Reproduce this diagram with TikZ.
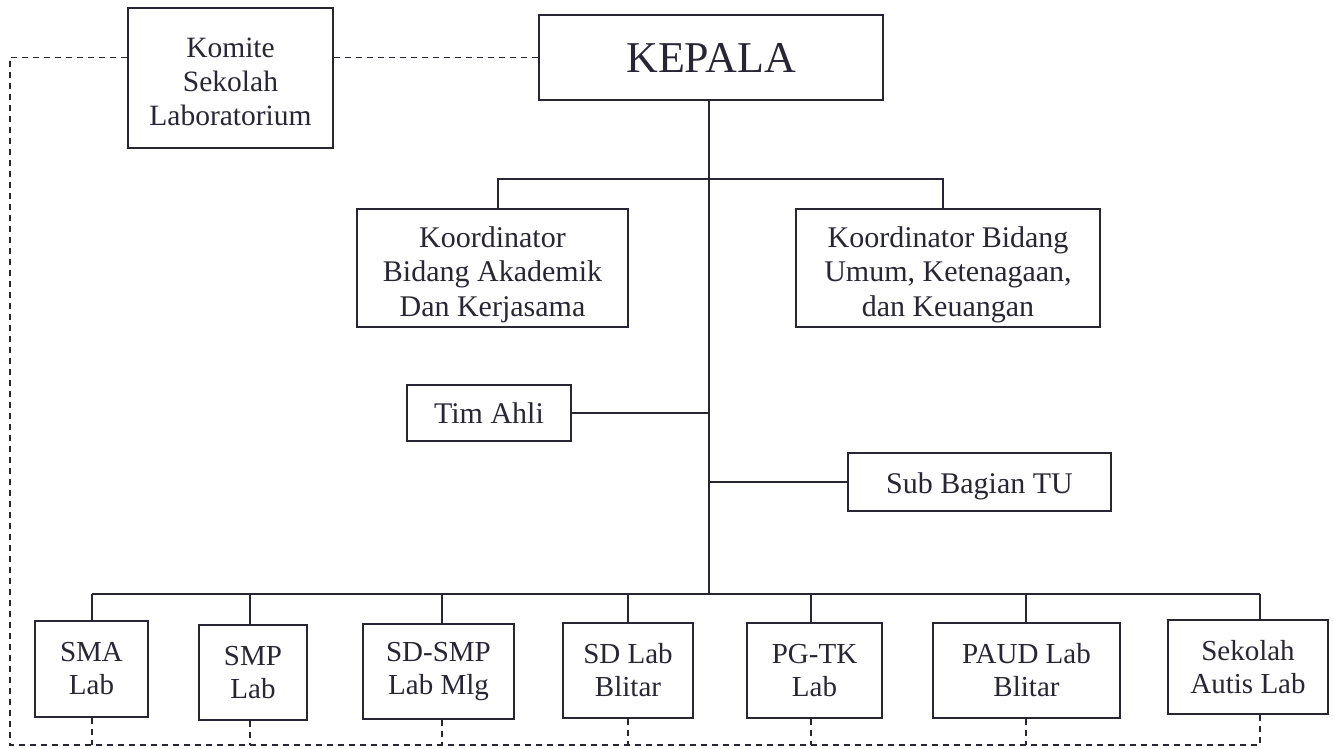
\documentclass[tikz,border=0pt]{standalone}
\usepackage{fontspec}
\setmainfont{Liberation Serif}
\definecolor{ink}{RGB}{40,38,52}
\begin{document}
\begin{tikzpicture}[x=1pt,y=-1pt,
  box/.style={draw=ink, line width=1.4pt, align=center, inner sep=0pt, text=ink,
              font=\fontsize{30}{34.5}\selectfont},
  botbox/.style={box, font=\fontsize{29}{33}\selectfont},
  conn/.style={draw=ink, line width=1.3pt},
  dashconn/.style={draw=ink, line width=1.1pt, dash pattern=on 6pt off 5pt}]
\useasboundingbox (0,0) rectangle (1333,749);

% top level
\node[box, minimum width=344pt, minimum height=85pt, font=\fontsize{44}{50}\selectfont] (kepala) at (711,57.5) {KEPALA};
\node[box, minimum width=205pt, minimum height=140pt, font=\fontsize{29.5}{34}\selectfont] (komite) at (230.5,78) {\rule{0pt}{27pt}Komite\\Sekolah\\Laboratorium};

% coordinators
\node[box, minimum width=271pt, minimum height=118pt] (koord1) at (492.5,268) {\rule{0pt}{34pt}Koordinator\\Bidang Akademik\\Dan Kerjasama};
\node[box, minimum width=304pt, minimum height=118pt] (koord2) at (948,268) {\rule{0pt}{34pt}Koordinator Bidang\\Umum, Ketenagaan,\\dan Keuangan};

\node[box, minimum width=164pt, minimum height=56pt] (timahli) at (489,413) {Tim Ahli};
\node[box, minimum width=263pt, minimum height=58pt] (subbag) at (979.5,482) {\rule{0pt}{29pt}Sub Bagian TU};

% units
\node[botbox, minimum width=113pt, minimum height=96pt] (sma) at (91.5,669) {SMA\\Lab};
\node[botbox, minimum width=108pt, minimum height=95pt] (smp) at (253,672.5) {SMP\\Lab};
\node[botbox, minimum width=151pt, minimum height=95pt] (sdsmp) at (438.5,671.5) {SD-SMP\\Lab Mlg};
\node[botbox, minimum width=130pt, minimum height=95pt] (sdlab) at (628,670.5) {SD Lab\\Blitar};
\node[botbox, minimum width=135pt, minimum height=95pt] (pgtk) at (814.5,670.5) {PG-TK\\Lab};
\node[botbox, minimum width=187pt, minimum height=95pt] (paud) at (1026.5,670.5) {PAUD Lab\\Blitar};
\node[botbox, minimum width=160pt, minimum height=94pt] (autis) at (1248,667) {Sekolah\\Autis Lab};

% helper coordinates
\coordinate (trunk) at (709,594);
\coordinate (brL) at (498,179);
\coordinate (brR) at (943,179);
\coordinate (dSMA) at (92,594);
\coordinate (dSMP) at (250,594);
\coordinate (dSDSMP) at (442,594);
\coordinate (dSDLAB) at (628,594);
\coordinate (dPGTK) at (811,594);
\coordinate (dPAUD) at (1026,594);
\coordinate (dAUTIS) at (1260,594);
\coordinate (lt) at (10,57.5);
\coordinate (lb) at (10,745);
\coordinate (rb) at (1260,745);

% solid structure
\draw[conn] (kepala.south -| trunk) -- (trunk);
\draw[conn] (brL |- koord1.north) -- (brL) -- (brR) -- (brR |- koord2.north);
\draw[conn] (timahli.east) -- (timahli.east -| trunk);
\draw[conn] (subbag.west) -- (subbag.west -| trunk);
\draw[conn] (dSMA) -- (dAUTIS);
\draw[conn] (dSMA) -- (dSMA |- sma.north);
\draw[conn] (dSMP) -- (dSMP |- smp.north);
\draw[conn] (dSDSMP) -- (dSDSMP |- sdsmp.north);
\draw[conn] (dSDLAB) -- (dSDLAB |- sdlab.north);
\draw[conn] (dPGTK) -- (dPGTK |- pgtk.north);
\draw[conn] (dPAUD) -- (dPAUD |- paud.north);
\draw[conn] (dAUTIS) -- (dAUTIS |- autis.north);

% dashed lines
\draw[dashconn] (komite.east |- kepala.west) -- (kepala.west);
\draw[dashconn] (komite.west |- kepala.west) -- (lt) -- (lb) -- (rb);
\draw[dashconn] (dSMA |- sma.south) -- (dSMA |- lb);
\draw[dashconn] (dSMP |- smp.south) -- (dSMP |- lb);
\draw[dashconn] (dSDSMP |- sdsmp.south) -- (dSDSMP |- lb);
\draw[dashconn] (dSDLAB |- sdlab.south) -- (dSDLAB |- lb);
\draw[dashconn] (dPGTK |- pgtk.south) -- (dPGTK |- lb);
\draw[dashconn] (dPAUD |- paud.south) -- (dPAUD |- lb);
\draw[dashconn] (dAUTIS |- autis.south) -- (rb);
\end{tikzpicture}
\end{document}
